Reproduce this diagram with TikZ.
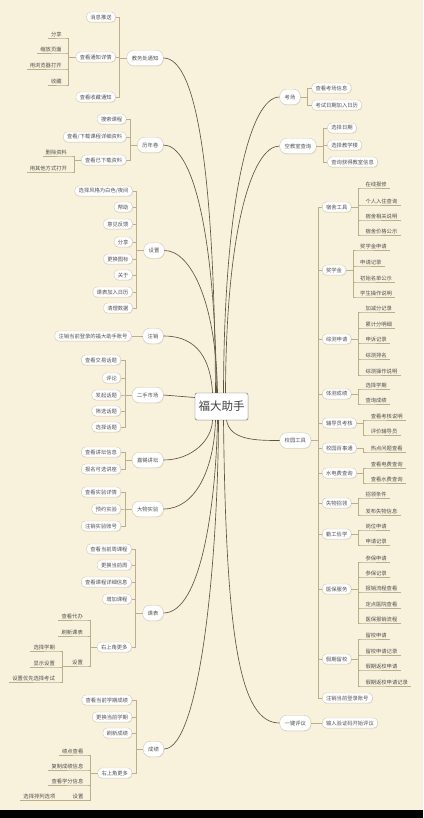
\documentclass[tikz,border=0pt]{standalone}
\usepackage{fontspec}
\setmainfont{Noto Sans CJK SC}
\usetikzlibrary{positioning,shadows}

\definecolor{paper}{HTML}{F8F1DB}
\definecolor{curveclr}{HTML}{5E5443}
\definecolor{branchclr}{HTML}{BBAE8C}
\definecolor{pillclr}{HTML}{D2CAB8}
\definecolor{inkclr}{HTML}{505050}

\tikzset{
    pillshadow/.style={drop shadow={opacity=0.18, shadow xshift=0.5pt, shadow yshift=-0.7pt}},
    root/.style={draw=gray!80!black, fill=white, rounded corners=2pt, minimum width=53pt, minimum height=27pt,
        font=\fontsize{11.5}{13}\selectfont, text=black!75, pillshadow},
    topicpill/.style={draw=pillclr, fill=white, rounded corners=7pt, inner xsep=5pt, inner ysep=0pt,
        minimum height=15.5pt, pillshadow},
    ltopic/.style={topicpill, anchor=east},
    rtopic/.style={topicpill, anchor=west},
    subpill/.style={draw=pillclr, fill=white, rounded corners=4pt, inner xsep=3.8pt, inner ysep=0pt,
        minimum height=10pt, pillshadow},
    lsub/.style={subpill, anchor=east, xshift=-11pt},
    rsub/.style={subpill, anchor=west, xshift=11pt},
    lleaf/.style={inner xsep=3pt, inner ysep=1.2pt, anchor=south east, xshift=-11pt},
    rleaf/.style={inner xsep=3pt, inner ysep=1.2pt, anchor=south west, xshift=11pt},
    curve/.style={draw=curveclr, line width=0.65pt},
    branch/.style={draw=branchclr, line width=0.7pt}
}

\begin{document}
\begin{tikzpicture}[x=1pt, y=-1pt, font=\fontsize{5.3}{6}\selectfont, text=inkclr]
    \fill[paper] (0,0) rectangle (423,818);
    \fill[black] (0,810) rectangle (423,818);

    \node[root] (fdzs) at (221.5,406.5) {福大助手};

    % left side
    \node[ltopic] (jwc) at (163.5,58) {教务处通知};
    \node[ltopic] (lnj) at (163.5,145) {历年卷};
    \node[ltopic] (sz) at (164.5,250.5) {设置};
    \node[ltopic] (zx) at (163.5,336) {注销};
    \node[ltopic] (escs) at (163.5,395) {二手市场};
    \node[ltopic] (jxjt) at (163.5,460) {嘉锡讲坛};
    \node[ltopic] (dwsy) at (163.5,509) {大物实验};
    \node[ltopic] (kb) at (163.5,613) {课表};
    \node[ltopic] (cj) at (164,749) {成绩};

    \node[lsub] (xxts) at (jwc.west |- 0,17) {消息推送};
    \node[lsub] (ckxq) at (jwc.west |- 0,57) {查看通知详情};
    \node[lsub] (cksc) at (jwc.west |- 0,97) {查看收藏通知};
    \node[lleaf] (fx1) at (ckxq.west |- 0,38) {分享};
    \node[lleaf] (sfym) at (ckxq.west |- 0,53) {缩放页面};
    \node[lleaf] (llq) at (ckxq.west |- 0,69) {用浏览器打开};
    \node[lleaf] (sc) at (ckxq.west |- 0,85) {收藏};

    \node[lsub] (sskc) at (lnj.west |- 0,119) {搜索课程};
    \node[lsub] (xzzl) at (lnj.west |- 0,137) {查看/下载课程详细资料};
    \node[lsub] (ckyx) at (lnj.west |- 0,160) {查看已下载资料};
    \node[lleaf] (sczl) at (ckyx.west |- 0,156) {删除资料};
    \node[lleaf] (qtfs) at (ckyx.west |- 0,172) {用其他方式打开};

    \node[lsub] (fgxz) at (sz.west |- 0,191) {选择风格为白色/夜间};
    \node[lsub] (bz) at (sz.west |- 0,207) {帮助};
    \node[lsub] (yjfk) at (sz.west |- 0,224) {意见反馈};
    \node[lsub] (fx2) at (sz.west |- 0,242) {分享};
    \node[lsub] (ghtb) at (sz.west |- 0,259) {更换图标};
    \node[lsub] (gy) at (sz.west |- 0,275) {关于};
    \node[lsub] (kbrl) at (sz.west |- 0,292) {课表加入日历};
    \node[lsub] (qlsj) at (sz.west |- 0,308) {清理数据};

    \node[lsub] (zxzh) at (zx.west |- 0,336) {注销当前登录的福大助手账号};

    \node[lsub] (ckjy) at (escs.west |- 0,360) {查看交易话题};
    \node[lsub] (pl) at (escs.west |- 0,378) {评论};
    \node[lsub] (fqht) at (escs.west |- 0,395) {发起话题};
    \node[lsub] (sxht) at (escs.west |- 0,411) {筛选话题};
    \node[lsub] (xzht) at (escs.west |- 0,427) {选择话题};

    \node[lsub] (ckjt) at (jxjt.west |- 0,452) {查看讲坛信息};
    \node[lsub] (bmjz) at (jxjt.west |- 0,469) {报名可选讲座};

    \node[lsub] (cksy) at (dwsy.west |- 0,492) {查看实验详情};
    \node[lsub] (yysy) at (dwsy.west |- 0,509) {预约实验};
    \node[lsub] (zxsy) at (dwsy.west |- 0,526) {注销实验账号};

    \node[lsub] (ckzkc) at (kb.west |- 0,549) {查看当前周课程};
    \node[lsub] (ghz) at (kb.west |- 0,565) {更换当前周};
    \node[lsub] (kcxx) at (kb.west |- 0,582) {查看课程详细信息};
    \node[lsub] (zjkc) at (kb.west |- 0,599) {增加课程};
    \node[lsub] (kbgd) at (kb.west |- 0,647) {右上角更多};
    \node[lleaf] (ckdb) at (kbgd.west |- 0,620) {查看代办};
    \node[lleaf] (sxkb) at (kbgd.west |- 0,636) {刷新课表};
    \node[lleaf] (kbsz) at (kbgd.west |- 0,666) {设置};
    \node[lleaf] (xzxq1) at (kbsz.south west |- 0,651) {选择学期};
    \node[lleaf] (xssz) at (kbsz.south west |- 0,667) {显示设置};
    \node[lleaf] (yxks) at (kbsz.south west |- 0,682) {设置优先选择考试};

    \node[lsub] (ckcj) at (cj.west |- 0,700) {查看当前学期成绩};
    \node[lsub] (ghxq) at (cj.west |- 0,717) {更换当前学期};
    \node[lsub] (sxcj) at (cj.west |- 0,733) {刷新成绩};
    \node[lsub] (cjgd) at (cj.west |- 0,773) {右上角更多};
    \node[lleaf] (jdck) at (cjgd.west |- 0,755) {绩点查看};
    \node[lleaf] (fzcj) at (cjgd.west |- 0,770) {复制成绩信息};
    \node[lleaf] (xfxx) at (cjgd.west |- 0,785) {查看学分信息};
    \node[lleaf] (cjsz) at (cjgd.west |- 0,800) {设置};
    \node[lleaf] (plxx) at (cjsz.south west |- 0,800) {选择排列选项};

    % right side
    \node[rtopic] (kc) at (279.5,97) {考场};
    \node[rtopic] (kjs) at (279.5,146) {空教室查询};
    \node[rtopic] (xgj) at (279.5,440.5) {校园工具};
    \node[rtopic] (yjpy) at (279.5,723) {一键评议};

    \node[rsub] (ckkc) at (kc.east |- 0,88) {查看考场信息};
    \node[rsub] (rlks) at (kc.east |- 0,105) {考试日期加入日历};

    \node[rsub] (xzrq) at (kjs.east |- 0,128) {选择日期};
    \node[rsub] (xzjxl) at (kjs.east |- 0,145) {选择教学楼};
    \node[rsub] (cxjs) at (kjs.east |- 0,162) {查询获得教室信息};

    \node[rsub] (ssgj) at (xgj.east |- 0,207) {宿舍工具};
    \node[rsub] (jxj) at (xgj.east |- 0,270) {奖学金};
    \node[rsub] (zcsq) at (xgj.east |- 0,339) {综测申请};
    \node[rsub] (tccj) at (xgj.east |- 0,394) {体测成绩};
    \node[rsub] (fdy) at (xgj.east |- 0,423) {辅导员考核};
    \node[rsub] (bst) at (xgj.east |- 0,448) {校园百事通};
    \node[rsub] (sdf) at (xgj.east |- 0,473) {水电费查询};
    \node[rsub] (swzl) at (xgj.east |- 0,503) {失物招领};
    \node[rsub] (qgjx) at (xgj.east |- 0,534) {勤工俭学};
    \node[rsub] (ybfw) at (xgj.east |- 0,589) {医保服务};
    \node[rsub] (jqlx) at (xgj.east |- 0,659) {假期留校};
    \node[rsub] (zxdq) at (xgj.east |- 0,698) {注销当前登录账号};

    \node[rleaf] (zxbx) at (ssgj.east |- 0,188) {在线报修};
    \node[rleaf] (rzcx) at (ssgj.east |- 0,205) {个人入住查询};
    \node[rleaf] (xgsm) at (ssgj.east |- 0,220) {宿舍相关说明};
    \node[rleaf] (jggs) at (ssgj.east |- 0,235) {宿舍价格公示};

    \node[rleaf] (jxjsq) at (jxj.east |- 0,250) {奖学金申请};
    \node[rleaf] (sqjl1) at (jxj.east |- 0,266) {申请记录};
    \node[rleaf] (mdgs) at (jxj.east |- 0,282) {初始名单公示};
    \node[rleaf] (czsm1) at (jxj.east |- 0,297) {学生操作说明};

    \node[rleaf] (jjf) at (zcsq.east |- 0,312) {加减分记录};
    \node[rleaf] (ljf) at (zcsq.east |- 0,328) {累计分明细};
    \node[rleaf] (ssjl) at (zcsq.east |- 0,343) {申诉记录};
    \node[rleaf] (zcpm) at (zcsq.east |- 0,359) {综测排名};
    \node[rleaf] (czsm2) at (zcsq.east |- 0,375) {综测操作说明};

    \node[rleaf] (xzxq2) at (tccj.east |- 0,389) {选择学期};
    \node[rleaf] (cxcj) at (tccj.east |- 0,404) {查询成绩};

    \node[rleaf] (khsm) at (fdy.east |- 0,420) {查看考核说明};
    \node[rleaf] (pjfdy) at (fdy.east |- 0,435) {评价辅导员};

    \node[rleaf] (rdwt) at (bst.east |- 0,452) {热点问题查看};

    \node[rleaf] (dfcx) at (sdf.east |- 0,468) {查看电费查询};
    \node[rleaf] (sfcx) at (sdf.east |- 0,483) {查看水费查询};

    \node[rleaf] (zltj) at (swzl.east |- 0,498) {招领条件};
    \node[rleaf] (fbxx) at (swzl.east |- 0,515) {发布失物信息};

    \node[rleaf] (gwsq) at (qgjx.east |- 0,530) {岗位申请};
    \node[rleaf] (sqjl2) at (qgjx.east |- 0,545) {申请记录};

    \node[rleaf] (cbsq) at (ybfw.east |- 0,562) {参保申请};
    \node[rleaf] (cbjl) at (ybfw.east |- 0,577) {参保记录};
    \node[rleaf] (bxlc) at (ybfw.east |- 0,592) {报销流程查看};
    \node[rleaf] (ddyy) at (ybfw.east |- 0,608) {定点医院查看};
    \node[rleaf] (ybbx) at (ybfw.east |- 0,623) {医保报销流程};

    \node[rleaf] (lxsq) at (jqlx.east |- 0,639) {留校申请};
    \node[rleaf] (lxjl) at (jqlx.east |- 0,655) {留校申请记录};
    \node[rleaf] (fxsq) at (jqlx.east |- 0,670) {假期返校申请};
    \node[rleaf] (fxjl) at (jqlx.east |- 0,686) {假期返校申请记录};

    \node[rsub] (yzm) at (yjpy.east |- 0,723) {输入验证码开始评议};

    % curves from the root
    \draw[curve] (jwc.east) .. controls (195,58) and (214,160) .. ([xshift=-6pt]fdzs.north);
    \draw[curve] (lnj.east) .. controls (192,145) and (215,230) .. ([xshift=-5pt]fdzs.north);
    \draw[curve] (sz.east) .. controls (190,250.5) and (216,300) .. ([xshift=-4pt]fdzs.north);
    \draw[curve] (zx.east) .. controls (190,336) and (210,350) .. ([xshift=-9pt]fdzs.north);
    \draw[curve] (escs.east) -- ([yshift=9pt]fdzs.west);
    \draw[curve] (jxjt.east) .. controls (192,460) and (212,440) .. ([xshift=-9pt]fdzs.south);
    \draw[curve] (dwsy.east) .. controls (195,509) and (214,470) .. ([xshift=-6pt]fdzs.south);
    \draw[curve] (kb.east) .. controls (202,613) and (216,500) .. ([xshift=-4pt]fdzs.south);
    \draw[curve] (cj.east) .. controls (200,749) and (218,560) .. ([xshift=-3pt]fdzs.south);
    \draw[curve] (kc.west) .. controls (250,97) and (224,200) .. ([xshift=2pt]fdzs.north);
    \draw[curve] (kjs.west) .. controls (252,146) and (226,230) .. ([xshift=4pt]fdzs.north);
    \draw[curve] (xgj.west) .. controls (255,440.5) and (230,440) .. ([xshift=5pt]fdzs.south);
    \draw[curve] (yjpy.west) .. controls (240,723) and (226,640) .. ([xshift=2pt]fdzs.south);

    % brackets, left
    \foreach \c in {xxts,ckxq,cksc}
        \draw[branch] (jwc.west) -- ++(-7,0) |- (\c.east);
    \foreach \c in {fx1,sfym,llq,sc}
        \draw[branch] (ckxq.west) -- ++(-7,0) |- (\c.south east) -- (\c.south west);
    \foreach \c in {sskc,xzzl,ckyx}
        \draw[branch] (lnj.west) -- ++(-7,0) |- (\c.east);
    \foreach \c in {sczl,qtfs}
        \draw[branch] (ckyx.west) -- ++(-7,0) |- (\c.south east) -- (\c.south west);
    \foreach \c in {fgxz,bz,yjfk,fx2,ghtb,gy,kbrl,qlsj}
        \draw[branch] (sz.west) -- ++(-7,0) |- (\c.east);
    \draw[branch] (zx.west) -- (zxzh.east);
    \foreach \c in {ckjy,pl,fqht,sxht,xzht}
        \draw[branch] (escs.west) -- ++(-7,0) |- (\c.east);
    \foreach \c in {ckjt,bmjz}
        \draw[branch] (jxjt.west) -- ++(-7,0) |- (\c.east);
    \foreach \c in {cksy,yysy,zxsy}
        \draw[branch] (dwsy.west) -- ++(-7,0) |- (\c.east);
    \foreach \c in {ckzkc,ghz,kcxx,zjkc,kbgd}
        \draw[branch] (kb.west) -- ++(-7,0) |- (\c.east);
    \foreach \c in {ckdb,sxkb,kbsz}
        \draw[branch] (kbgd.west) -- ++(-7,0) |- (\c.south east) -- (\c.south west);
    \foreach \c in {xzxq1,xssz,yxks}
        \draw[branch] (kbsz.south west) -- ++(-7,0) |- (\c.south east) -- (\c.south west);
    \foreach \c in {ckcj,ghxq,sxcj,cjgd}
        \draw[branch] (cj.west) -- ++(-7,0) |- (\c.east);
    \foreach \c in {jdck,fzcj,xfxx,cjsz}
        \draw[branch] (cjgd.west) -- ++(-7,0) |- (\c.south east) -- (\c.south west);
    \draw[branch] (cjsz.south west) -- (plxx.south east) -- (plxx.south west);

    % brackets, right
    \foreach \c in {ckkc,rlks}
        \draw[branch] (kc.east) -- ++(7,0) |- (\c.west);
    \foreach \c in {xzrq,xzjxl,cxjs}
        \draw[branch] (kjs.east) -- ++(7,0) |- (\c.west);
    \foreach \c in {ssgj,jxj,zcsq,tccj,fdy,bst,sdf,swzl,qgjx,ybfw,jqlx,zxdq}
        \draw[branch] (xgj.east) -- ++(7,0) |- (\c.west);
    \foreach \p/\cs in {ssgj/{zxbx,rzcx,xgsm,jggs}, jxj/{jxjsq,sqjl1,mdgs,czsm1},
        zcsq/{jjf,ljf,ssjl,zcpm,czsm2}, tccj/{xzxq2,cxcj}, fdy/{khsm,pjfdy}, bst/{rdwt},
        sdf/{dfcx,sfcx}, swzl/{zltj,fbxx}, qgjx/{gwsq,sqjl2},
        ybfw/{cbsq,cbjl,bxlc,ddyy,ybbx}, jqlx/{lxsq,lxjl,fxsq,fxjl}}
        \foreach \c in \cs
            \draw[branch] (\p.east) -- ++(7,0) |- (\c.south west) -- (\c.south east);
    \draw[branch] (yjpy.east) -- (yzm.west);
\end{tikzpicture}
\end{document}
